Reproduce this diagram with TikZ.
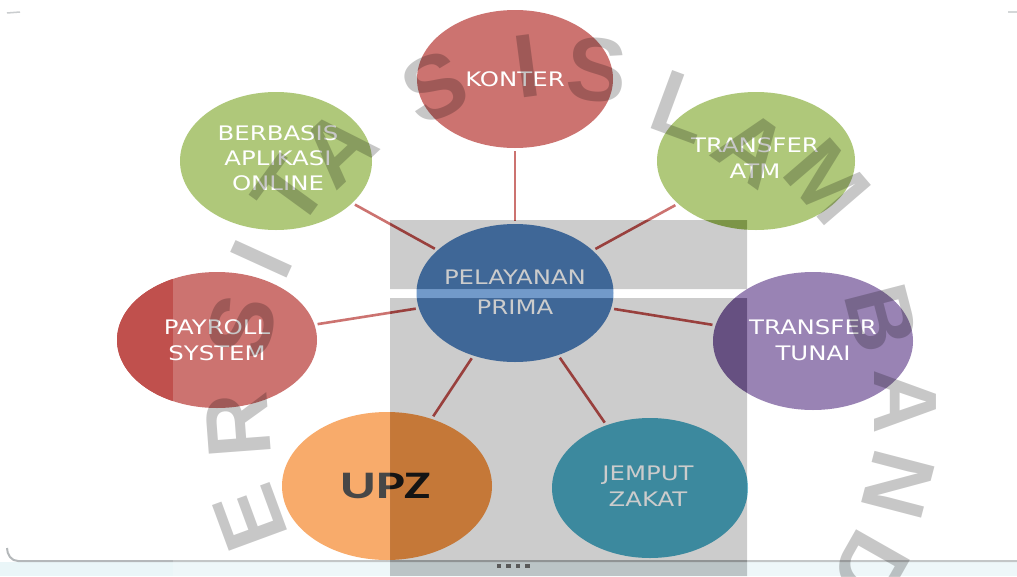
\documentclass[tikz,border=0pt]{standalone}
\usepackage{fontspec}
\usetikzlibrary{shapes.geometric}
\newfontfamily\lblfam[FakeStretch=1.22]{DejaVu Sans}
\newfontfamily\upzfam[FakeStretch=1.4]{Carlito}
\newfontfamily\wmfam{Liberation Sans}
\definecolor{cred}{HTML}{C0504D}
\definecolor{cgreen}{HTML}{9BBB59}
\definecolor{cblue}{HTML}{4F81BD}
\definecolor{cpurple}{HTML}{8064A2}
\definecolor{caqua}{HTML}{4BACC6}
\definecolor{corange}{HTML}{F79646}
\definecolor{cstrip}{HTML}{EAF6F8}
\definecolor{cframe}{HTML}{B4B8BA}
\definecolor{cdots}{HTML}{5A5A5A}
\tikzset{
  bub/.style={ellipse, inner sep=0pt, draw=none},
  lbl/.style={text=white, font=\lblfam\fontsize{20}{26}\selectfont, align=center, inner sep=0pt},
  conn/.style={draw=cred, line width=2.6pt, shorten <=3pt, shorten >=3pt},
  wm/.style={text=black, opacity=0.22, font=\wmfam\bfseries\fontsize{90}{90}\selectfont, inner sep=0pt},
}
\begin{document}
\begin{tikzpicture}[x=1pt,y=-1pt]
\useasboundingbox (0,0) rectangle (1017,576);
\fill[white] (0,0) rectangle (1017,576);
% slide frame remnants
\fill[cstrip] (0,562) rectangle (1017,576);
\draw[cframe, line width=2pt] (7,548) to[out=-90,in=180] (18,561) -- (1017,561);
\draw[cframe!70, line width=1.5pt] (7,13) -- (20,12);
\draw[cframe!70, line width=1.5pt] (1008,12) -- (1017,12);
% bubbles
\node[bub, fill=cred, minimum width=196pt, minimum height=138pt] (konter) at (515,79) {};
\node[bub, fill=cgreen, minimum width=192pt, minimum height=138pt] (berbasis) at (276,161) {};
\node[bub, fill=cgreen, minimum width=198pt, minimum height=138pt] (atm) at (756,161) {};
\node[bub, fill=cblue, minimum width=197pt, minimum height=138pt] (pel) at (515,293) {};
\node[bub, fill=cred, minimum width=200pt, minimum height=136pt,
      path picture={\fill[cred!100!black] (path picture bounding box.south west) rectangle ([xshift=56pt]path picture bounding box.north west);}] (payroll) at (217,340) {};
\node[bub, fill=cpurple, minimum width=200pt, minimum height=138pt] (tunai) at (813,341) {};
\node[bub, fill=corange, minimum width=210pt, minimum height=148pt] (upz) at (387,486) {};
\node[bub, fill=caqua, minimum width=196pt, minimum height=140pt] (jemput) at (650,488) {};
% connectors
\draw[conn] (pel) -- (konter);
\draw[conn] (pel) -- (berbasis);
\draw[conn] (pel) -- (atm);
\draw[conn] (pel) -- (payroll);
\draw[conn] (pel) -- (tunai);
\draw[conn] (pel) -- (upz);
\draw[conn] (pel) -- (jemput);
% labels
\node[lbl] (tkonter) at (515,79) {KONTER};
\node[lbl] (tberbasis) at (278,158) {BERBASIS\\[-1pt]APLIKASI\\[-1pt]ONLINE};
\node[lbl] (tatm) at (755,158) {TRANSFER\\ATM};
\node[lbl] (tpel) at (515,292) {PELAYANAN\\[4pt]PRIMA};
\node[lbl] (tpayroll) at (217,340) {PAYROLL\\SYSTEM};
\node[lbl] (ttunai) at (813,340) {TRANSFER\\TUNAI};
\node[lbl] (tjemput) at (648,486) {JEMPUT\\ZAKAT};
\node[font=\upzfam\bfseries\fontsize{39}{39}\selectfont, text=black!90, inner sep=0pt] (tupz) at (386,486) {UPZ};
% overlays
\fill[white, opacity=0.2, even odd rule] (173,0) rectangle (1017,576) (390,220) rectangle (747,289) (390,298) rectangle (747,576);
\fill[black, opacity=0.2] (390,220) rectangle (747,289) (390,298) rectangle (747,576);
% watermark
\foreach \ch/\px/\py/\rt [count=\i] in {E/250/518/110.2, R/238/425/94.3, S/242/327/77.6, I/262/259/65.5, T/290/192/53.9, A/338/148/43.3, S/435/87/23.5, I/527/66/7.5, S/597/70/-4.5, L/682/107/-20.3, A/752/148/-35.6, M/827/182/-49.3, B/882/318/-75.5, A/905/402/-90, N/898/485/-104.6, D/870/568/-119.6}
  \node[wm, rotate=\rt] (wm\i) at (\px,\py) {\ch};
% dots
\foreach \dx [count=\j] in {497,506.5,516,525.5}
  \node[fill=cdots, inner sep=0pt, minimum width=4.5pt, minimum height=4pt] (dot\j) at (\dx+2,566) {};
\end{tikzpicture}
\end{document}
